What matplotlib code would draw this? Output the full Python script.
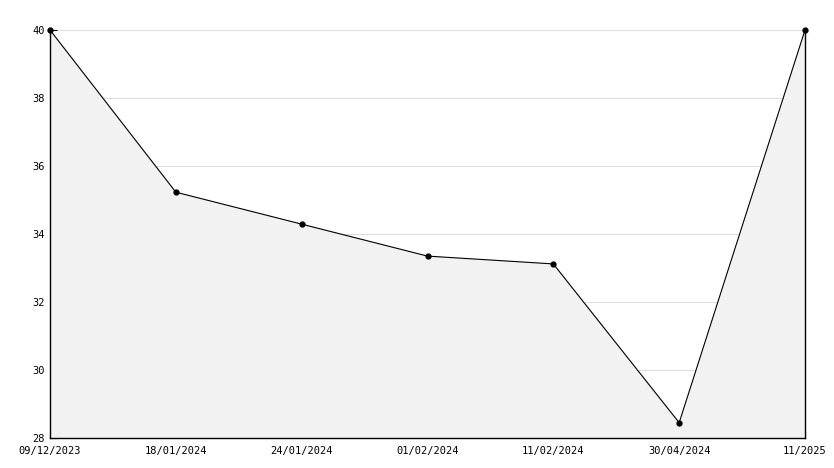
import numpy as np
import matplotlib.pyplot as plt
from matplotlib.ticker import MultipleLocator

dates = ['09/12/2023', '18/01/2024', '24/01/2024', '01/02/2024',
         '11/02/2024', '30/04/2024', '11/2025']
values = [40.0, 35.23, 34.29, 33.35, 33.12, 28.45, 40.0]

plt.rcParams['font.family'] = ['DejaVu Sans Mono']

fig = plt.figure(figsize=(8.34, 4.68), dpi=100)
ax = fig.add_axes([50 / 834, 30 / 468, 755 / 834, 408 / 468])

x = np.arange(len(dates))
ax.fill_between(x, values, 28, color='#f2f2f2', zorder=2)
ax.plot(x, values, color='black', lw=0.8, marker='o', ms=3.5, zorder=3,
        clip_on=False)

ax.set_xlim(0, len(dates) - 1)
ax.set_ylim(28, 40)
ax.set_xticks(x)
ax.set_xticklabels(dates)
ax.yaxis.set_major_locator(MultipleLocator(2))
ax.yaxis.set_minor_locator(MultipleLocator(1))
ax.grid(axis='y', which='major', color='#dddddd', lw=0.8, zorder=0)
ax.set_axisbelow(True)

ax.spines['top'].set_visible(False)
for s in ['left', 'bottom', 'right']:
    ax.spines[s].set_linewidth(1.0)
    ax.spines[s].set_zorder(4)

ax.tick_params(axis='both', which='major', direction='in', length=5,
               labelsize=7.5, pad=4)
ax.tick_params(axis='y', which='minor', direction='in', length=3)
ax.tick_params(axis='x', pad=6)

fig.savefig('out.png', dpi=100)
